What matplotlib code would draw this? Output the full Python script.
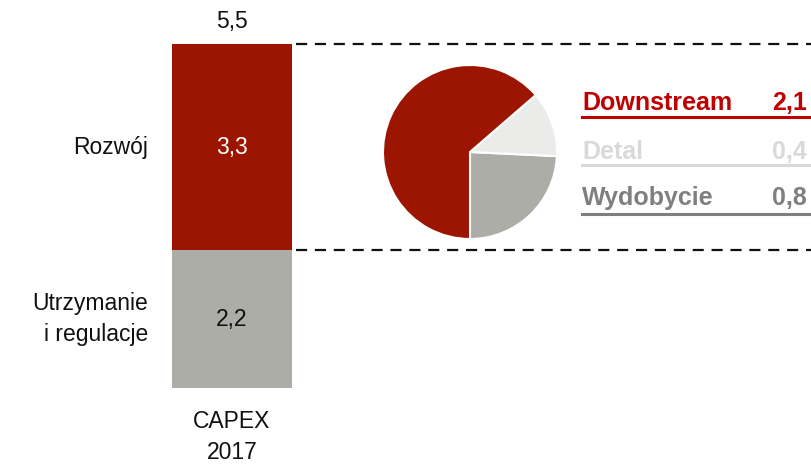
import matplotlib
matplotlib.use("Agg")
import matplotlib.pyplot as plt
from matplotlib import font_manager

W, H = 811, 472

def has_font(name):
    try:
        font_manager.findfont(name, fallback_to_default=False)
        return True
    except Exception:
        return False

BASE = "Liberation Sans"
NARROW = "Liberation Sans Narrow" if has_font("Liberation Sans Narrow") else BASE
plt.rcParams['font.family'] = [BASE, 'DejaVu Sans']

# ---- data ----
bar_category = "CAPEX\n2017"
segment_labels = ["Utrzymanie\ni regulacje", "Rozwój"]
segment_values = [2.2, 3.3]
segment_texts = ["2,2", "3,3"]
total_text = "5,5"

pie_labels = ["Wydobycie", "Detal", "Downstream"]
pie_values = [0.8, 0.4, 2.1]
pie_texts = ["0,8", "0,4", "2,1"]

# ---- styles ----
seg_colors = ["#ADADA8", "#9C1500"]
seg_text_colors = ["#111111", "white"]
pie_colors = ["#ADADA8", "#EBEBEA", "#9C1500"]
legend_colors = {"Downstream": "#C00000", "Detal": "#D9D9D9", "Wydobycie": "#7F7F7F"}
legend_order = ["Downstream", "Detal", "Wydobycie"]

fig = plt.figure(figsize=(W / 100, H / 100), dpi=100)

# bar axes: x from 172 to 292 px, y 0 at 388 px, top (5.5) at 44 px
bx0, bx1 = 172, 292
by0, by1 = 388, 44
total = sum(segment_values)
ax = fig.add_axes([bx0 / W, (H - by0) / H, (bx1 - bx0) / W, (by0 - by1) / H])
ax.set_xlim(-0.5, 0.5)
ax.set_ylim(0, total)
ax.axis("off")

bottom = 0
mids = []
for v, c in zip(segment_values, seg_colors):
    ax.bar(0, v, width=1.0, bottom=bottom, color=c, edgecolor="none")
    mids.append(bottom + v / 2)
    bottom += v

fs = 16.5
for m, t, tc in zip(mids, segment_texts, seg_text_colors):
    ax.text(0, m, t, ha="center", va="center", color=tc, fontsize=fs)
for m, lab in zip(mids, segment_labels):
    ax.text(-0.5 - 24 / 120, m, lab, ha="right", va="center", fontsize=fs,
            color="#111111", linespacing=1.45)
ax.text(0, total + 0.17, total_text, ha="center", va="bottom", fontsize=fs,
        color="#111111")
ax.text(0, -0.35, bar_category, ha="center", va="top", fontsize=fs,
        color="#111111", linespacing=1.45)

# dashed guide lines from bar edge to the figure edge
x_right = -0.5 + (W - bx0) / (bx1 - bx0)
x_start = 0.5 + 4 / (bx1 - bx0)
for yv in [total, segment_values[0]]:
    ax.plot([x_start, x_right], [yv, yv], color="#111111", lw=1.6,
            linestyle=(0, (5, 3.5)), clip_on=False)

# pie axes
cx, cy, r = 470, 152, 87
pax = fig.add_axes([(cx - r) / W, (H - cy - r) / H, 2 * r / W, 2 * r / H])
pax.pie(pie_values, colors=pie_colors, startangle=-90, counterclock=True,
        wedgeprops=dict(edgecolor="white", linewidth=1.5))
pax.set_xlim(-1, 1)
pax.set_ylim(-1, 1)
pax.set_aspect("equal")
pax.axis("off")

# legend table
tx0, tx1 = 582, 807
rows_y = [103, 152, 198]
line_y = [117, 165, 214]
vals = dict(zip(pie_labels, pie_texts))
for name, yc, ly in zip(legend_order, rows_y, line_y):
    col = legend_colors[name]
    fig.text(tx0 / W, 1 - yc / H, name, ha="left", va="center", fontsize=18,
             fontweight="bold", color=col, family=[NARROW, 'DejaVu Sans'])
    fig.text(tx1 / W, 1 - yc / H, vals[name], ha="right", va="center", fontsize=18,
             fontweight="bold", color=col, family=[NARROW, 'DejaVu Sans'])
    fig.add_artist(plt.Line2D([tx0 / W, 1.0], [1 - ly / H, 1 - ly / H],
                              color=col, lw=2.2, transform=fig.transFigure))

fig.savefig("out.png", dpi=100)
